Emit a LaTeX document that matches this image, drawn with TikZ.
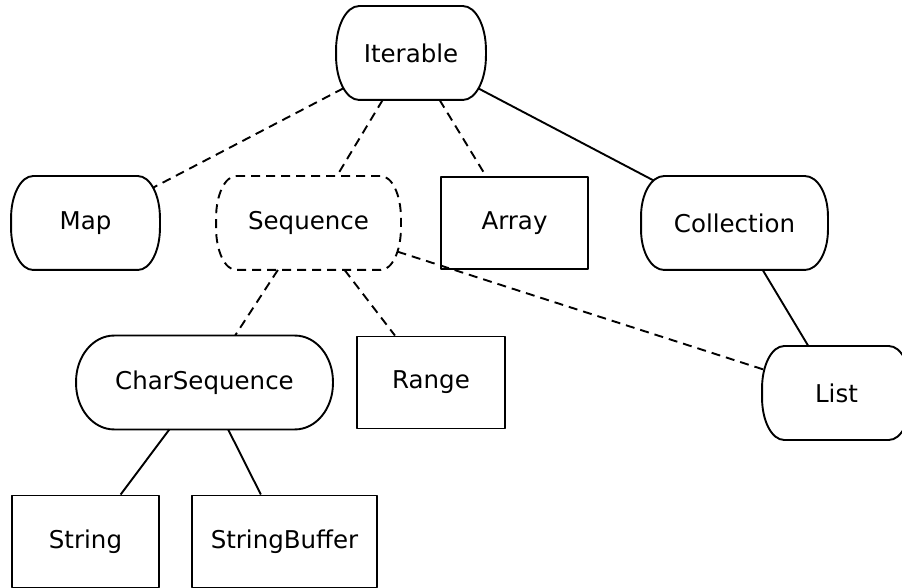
\documentclass[tikz,border=0pt]{standalone}
\usepackage{fontspec}
\setmainfont{DejaVu Sans}
\usetikzlibrary{intersections,calc}

% outline with elliptical corners around a named node; the outline is kept as b-<name>
\newcommand\roundbox[4][]{%
  \draw[#1, name path global=b-#2]
    ($(#2.north west)+(#3pt,0)$) -- ($(#2.north east)+(-#3pt,0)$)
    arc[start angle=90,end angle=0,x radius=#3pt,y radius=#4pt]
    -- ($(#2.south east)+(0,#4pt)$)
    arc[start angle=0,end angle=-90,x radius=#3pt,y radius=#4pt]
    -- ($(#2.south west)+(#3pt,0)$)
    arc[start angle=-90,end angle=-180,x radius=#3pt,y radius=#4pt]
    -- ($(#2.north west)+(0,-#4pt)$)
    arc[start angle=180,end angle=90,x radius=#3pt,y radius=#4pt]
    -- cycle;}

% outline of a plain box node, kept as b-<name>
\newcommand\boxpath[1]{%
  \path[name path global=b-#1] (#1.north west) rectangle (#1.south east);}

% connector along the line between two node centres, cut at both outlines
\newcommand\joinnodes[3][]{%
  \path[name path=tmpln] (#2.center) -- (#3.center);
  \path[name intersections={of=tmpln and b-#2, by=lkA}];
  \path[name intersections={of=tmpln and b-#3, by=lkB}];
  \draw[#1] (lkA) -- (lkB);}

\begin{document}
\begin{tikzpicture}[x=1pt,y=1pt,line width=1.9pt,line join=round,
  every node/.style={font=\fontsize{24.5}{28}\selectfont, inner sep=0pt,
                     minimum height=92pt},
  plainbox/.style={draw},
  softbox/.style={draw=none},
  dashline/.style={dash pattern=on 9pt off 6pt}]

\useasboundingbox (0,0) rectangle (902,587);

% types
\node[softbox,minimum width=148pt] (it)  at (411,534)   {Iterable};
\node[softbox,minimum width=147pt] (map) at (85.5,364)  {Map};
\node[softbox,minimum width=183pt] (seq) at (308.5,364) {Sequence};
\node[plainbox,minimum width=147pt] (arr) at (514.5,364) {Array};
\node[softbox,minimum width=185pt] (col) at (734.5,364) {Collection};
\node[softbox,minimum width=255pt] (chs) at (204.5,204.5) {CharSequence};
\node[plainbox,minimum width=148pt] (rng) at (431,204.5) {Range};
\node[softbox,minimum width=147pt] (lst) at (836.5,194)  {List};
\node[plainbox,minimum width=147pt] (str) at (85.5,45.5) {String};
\node[plainbox,minimum width=185pt] (sbf) at (284.5,45.5) {StringBuffer};

% outlines
\roundbox{it}{23}{44}
\roundbox{map}{22}{42}
\roundbox[dashline]{seq}{20}{42}
\roundbox{col}{23}{40}
\roundbox{chs}{38}{46}
\roundbox{lst}{22}{42}
\boxpath{arr}
\boxpath{rng}
\boxpath{str}
\boxpath{sbf}

% relations
\joinnodes[dashline]{it}{map}
\joinnodes[dashline]{it}{seq}
\joinnodes[dashline]{it}{arr}
\joinnodes{it}{col}
\joinnodes{col}{lst}
\joinnodes[dashline]{seq}{chs}
\joinnodes[dashline]{seq}{rng}
\joinnodes[dashline]{seq}{lst}
\joinnodes{chs}{str}
\joinnodes{chs}{sbf}
\end{tikzpicture}
\end{document}
